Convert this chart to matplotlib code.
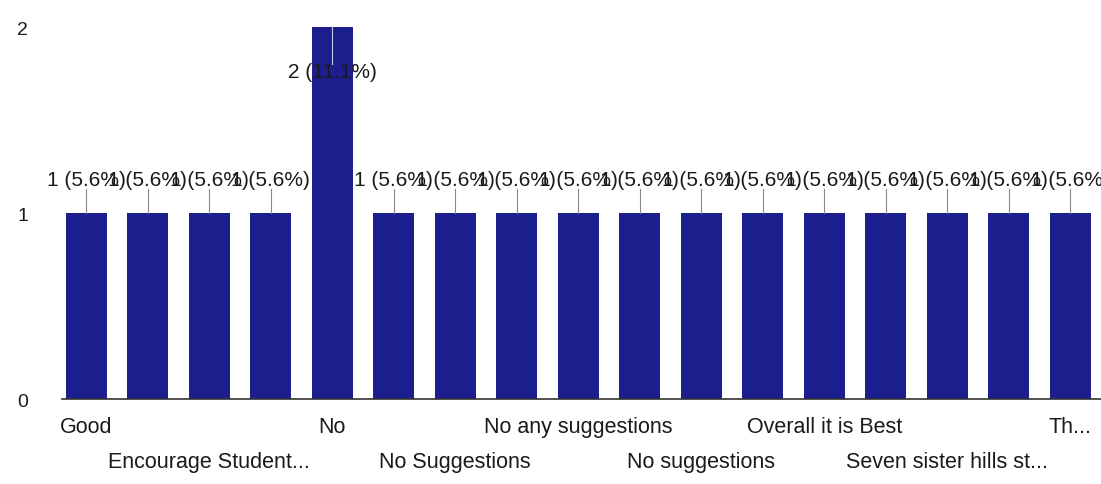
import matplotlib.pyplot as plt
import numpy as np

plt.rcParams['font.family'] = ['Liberation Sans', 'DejaVu Sans']

# one bar per response, labels only shown on every other bar (as in Google Forms)
labels = ["Good", "", "Encourage Student...", "", "No", "", "No Suggestions", "",
          "No any suggestions", "", "No suggestions", "", "Overall it is Best", "",
          "Seven sister hills st...", "", "Th..."]
counts = [1, 1, 1, 1, 2, 1, 1, 1, 1, 1, 1, 1, 1, 1, 1, 1, 1]
pcts = ["5.6%", "5.6%", "5.6%", "5.6%", "11.1%", "5.6%", "5.6%", "5.6%", "5.6%",
        "5.6%", "5.6%", "5.6%", "5.6%", "5.6%", "5.6%", "5.6%", "5.6%"]

bar_col = '#1c1e8e'
txt_col = '#1a1a1a'

fig = plt.figure(figsize=(11.01, 4.85), dpi=100)
ax = fig.add_axes([0.056, 0.175, 0.944, 0.767])

x = np.arange(len(counts))
ax.bar(x, counts, width=0.66, color=bar_col, zorder=2)

for i, (c, p) in enumerate(zip(counts, pcts)):
    if c == max(counts):
        # no room above: label goes inside the bar
        ax.plot([i, i], [c - 0.2, c], color='#c8c8e0', lw=0.8, zorder=3)
        ax.text(i, c - 0.24, "%d (%s)" % (c, p), ha='center', va='center',
                fontsize=15, color=txt_col, zorder=4)
    else:
        ax.plot([i, i], [c, c + 0.13], color='#888888', lw=0.8, zorder=3)
        ax.text(i, c + 0.18, "%d (%s)" % (c, p), ha='center', va='center',
                fontsize=15, color=txt_col, zorder=4)

# alternate tick labels between two rows
ticks = [i for i in range(len(labels)) if labels[i]]
ticklabels = []
for n, i in enumerate(ticks):
    ticklabels.append(labels[i] if n % 2 == 0 else "\n" + labels[i])
ax.set_xticks(ticks)
ax.set_xticklabels(ticklabels, fontsize=15.5, color=txt_col, linespacing=1.9)
ax.tick_params(axis='x', length=0, pad=12)

ax.set_ylim(0, 2)
ax.set_xlim(-0.4, 16.5)
ax.set_yticks([0, 1, 2])
ax.tick_params(axis='y', length=0, pad=24, labelsize=14, labelcolor=txt_col)

for s in ['top', 'right', 'left']:
    ax.spines[s].set_visible(False)
ax.spines['bottom'].set_color('#333333')
ax.spines['bottom'].set_linewidth(1.2)

fig.savefig("out.png", dpi=100)
